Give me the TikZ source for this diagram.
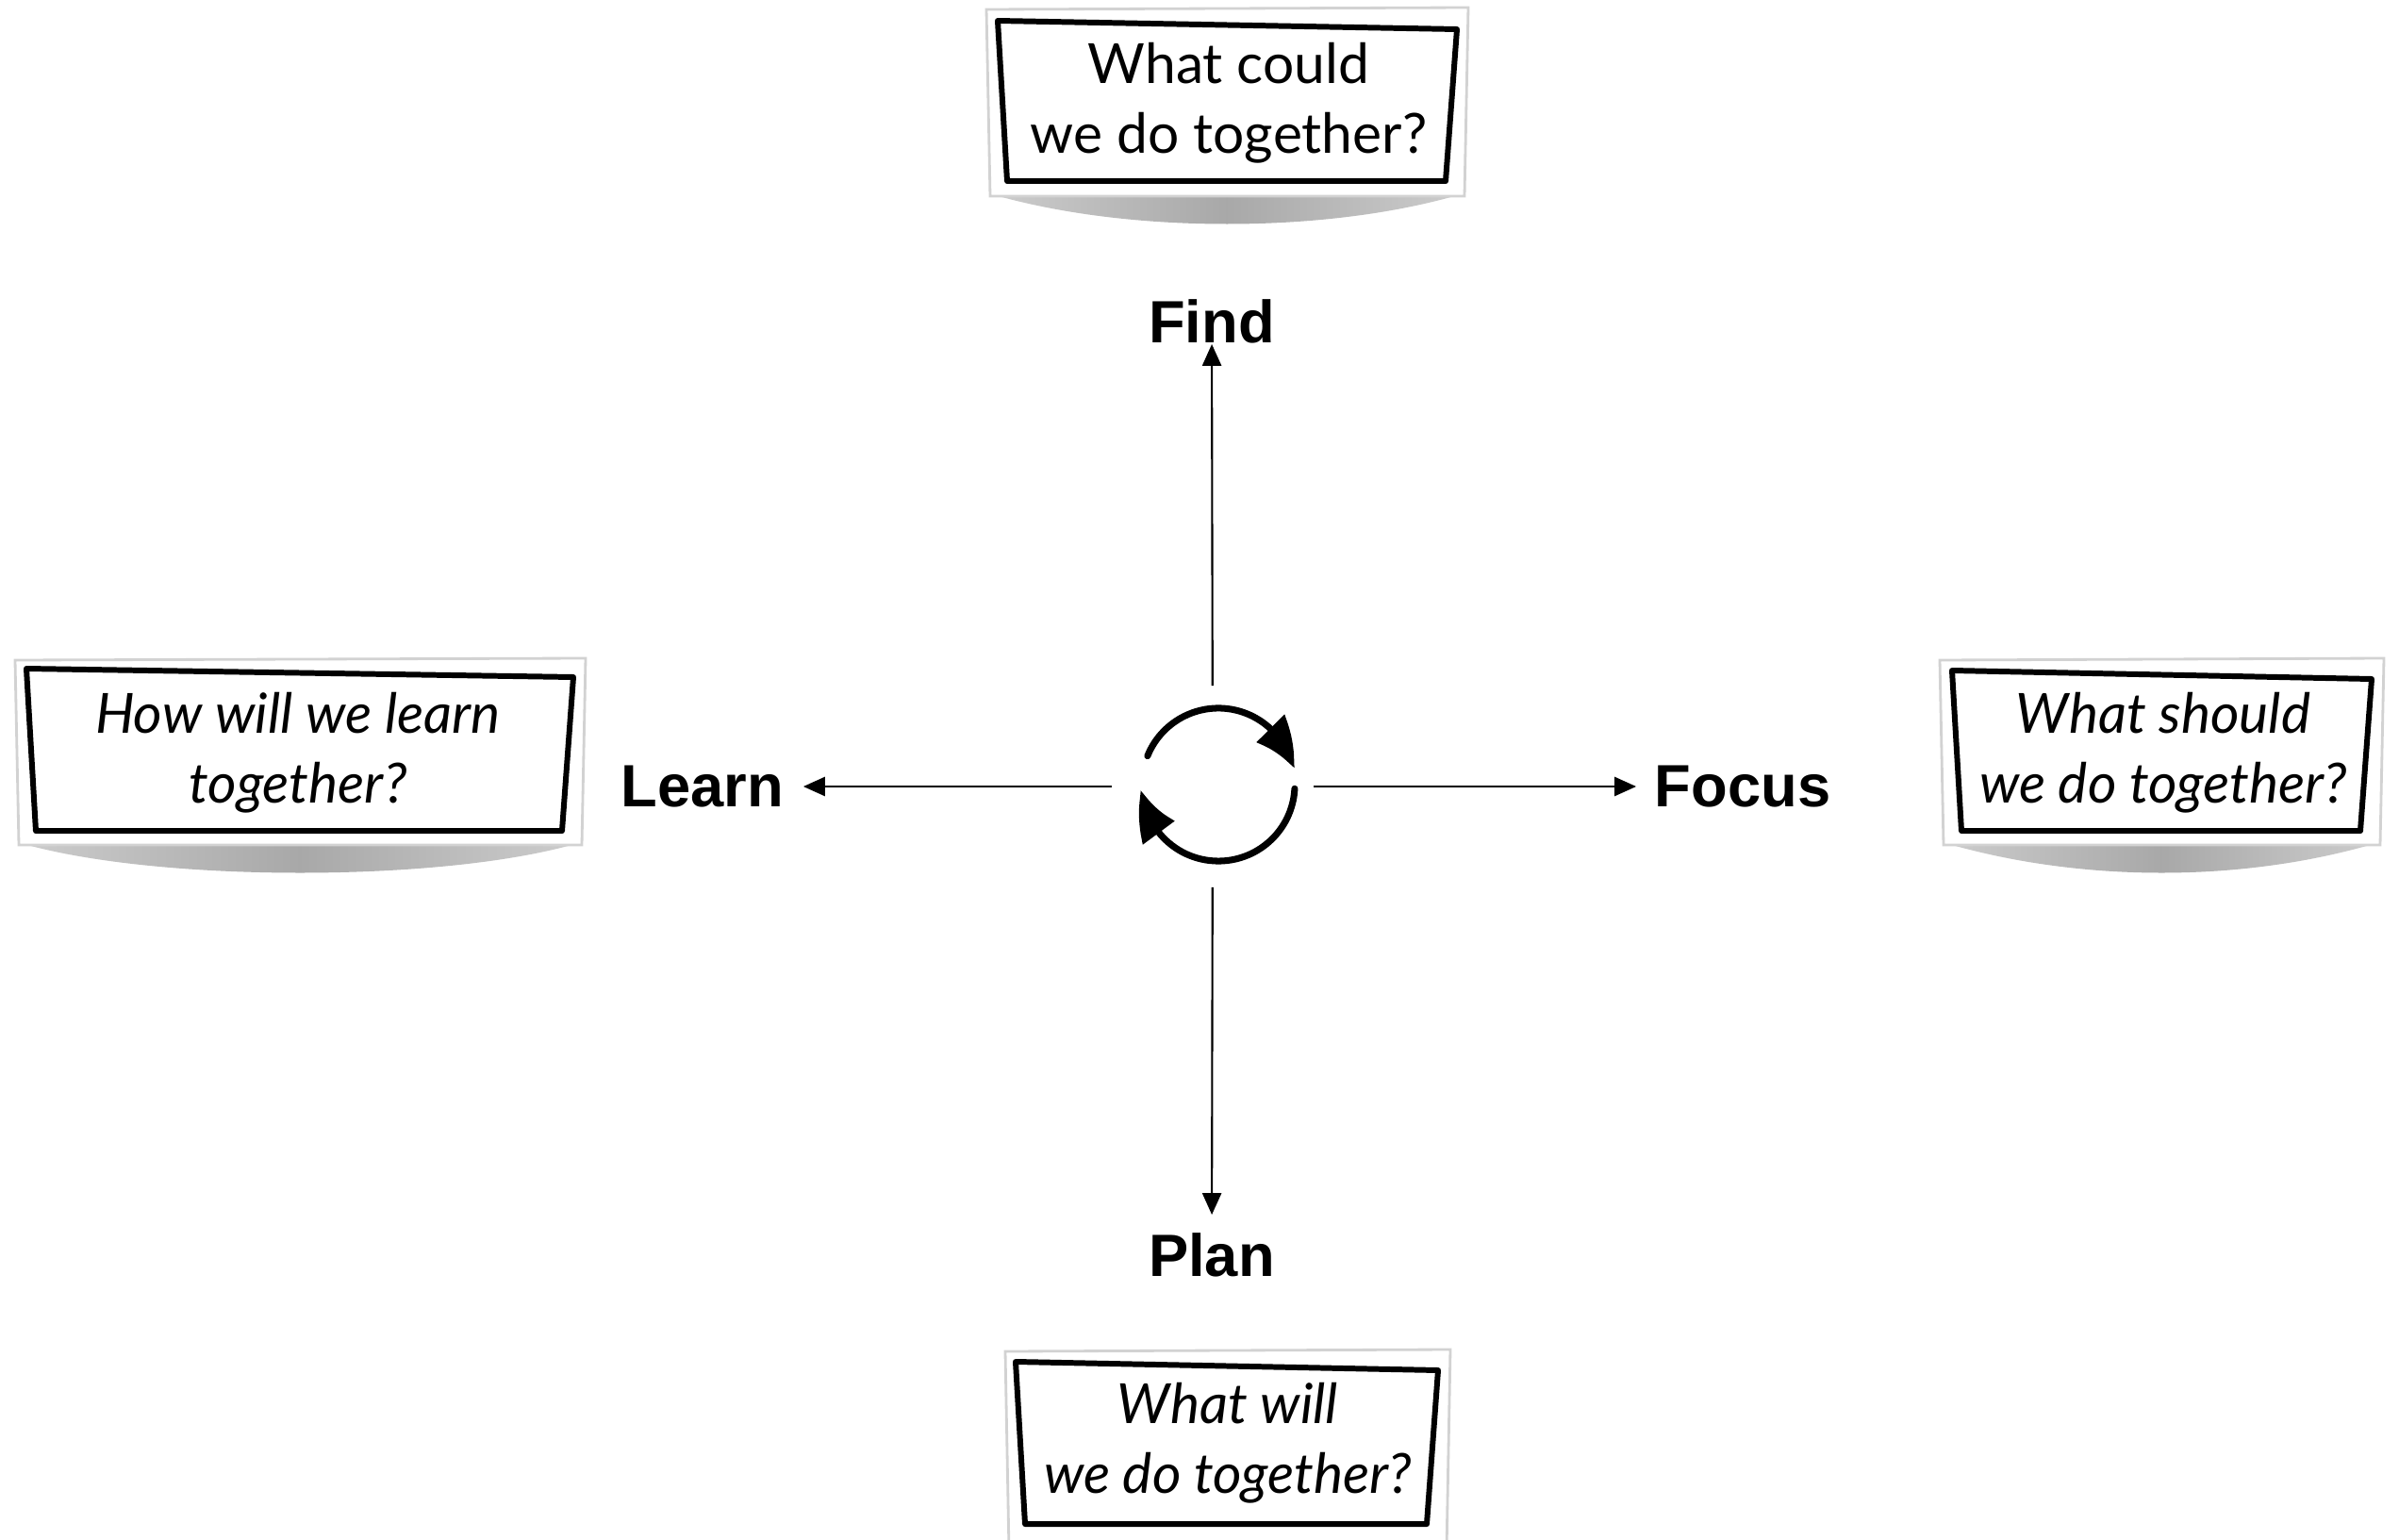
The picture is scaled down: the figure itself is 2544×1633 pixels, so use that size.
\documentclass[tikz,border=0pt]{standalone}
\usepackage{fontspec}
\setmainfont{Lato}
\newfontfamily\labfont{Liberation Sans}
\usetikzlibrary{arrows.meta,bending}
\newcommand\qcard[8]{%
  \shade[left color=gray!40, right color=gray!40, middle color=gray!68]
    (#1+6,#4-2) .. controls (#1+150,#4+40) and (#3-150,#4+40) .. (#3-8,#4-2) -- cycle;
  \draw[gray!35, line width=0.8pt, fill=white] (#1,#2+2) -- (#3,#2) -- (#3-4,#4) -- (#1+4,#4) -- cycle;
  \draw[black, line width=1.7pt, line join=round] (#5,#6) -- (#7,#6+9) -- (#7-12,#8) -- (#5+10,#8) -- cycle;
}
\begin{document}
\begin{tikzpicture}[x=0.01cm,y=-0.01cm,
  qtext/.style={align=center, font=\fontsize{16.7}{21}\selectfont, inner sep=0pt},
  qital/.style={qtext, font=\fontsize{16.7}{21}\selectfont\itshape},
  lab/.style={font=\labfont\bfseries\fontsize{18}{20}\selectfont, inner sep=0pt},
  conn/.style={-{Triangle[length=6.5pt,width=5.7pt]}, line width=0.6pt},
  cyc/.style={line width=2pt, line cap=round, -{Triangle[length=0.5cm,width=0.4cm,bend]}},
  ]
\useasboundingbox (0,0) rectangle (2544,1633);
\fill[white] (0,0) rectangle (2544,1633);

% cards
\qcard{1046}{8}{1557}{208}{1058}{22}{1545}{192}
\qcard{16}{698}{621}{896}{28}{709}{608}{881}
\qcard{2057}{698}{2528}{896}{2070}{711}{2515}{881}
\qcard{1066}{1431}{1538}{1645}{1077}{1444}{1525}{1616}

\node[qtext] (qfind) at (1303,109) {What could\\we do together?};
\node[qital] (qlearn) at (316,798) {How will we learn\\together?};
\node[qital] (qfocus) at (2294,798) {What should\\we do together?};
\node[qital] (qplan) at (1302,1530) {What will\\we do together?};

% labels
\node[lab] (find) at (1285,341) {Find};
\node[lab] (plan) at (1285,1331) {Plan};
\node[lab] (learn) at (745,834) {Learn};
\node[lab] (focus) at (1848,834) {Focus};

% hub
\coordinate (cc) at (1292,832);
\node[circle, minimum size=2.12cm, inner sep=0pt] (hub) at (1286,834) {};

\draw[conn] (hub) -- (find);
\draw[conn, shorten >=0.19cm] (hub) -- (plan);
\draw[conn, shorten >=0.2cm] (hub) -- (learn);
\draw[conn, shorten >=0.19cm] (hub) -- (focus);

% cycle icon
\draw[cyc] (cc) ++(158:0.81cm) arc[start angle=158, end angle=12, radius=0.81cm];
\draw[cyc] (cc) ++(-3:0.81cm) arc[start angle=-3, end angle=-176, radius=0.81cm];
\end{tikzpicture}
\end{document}
